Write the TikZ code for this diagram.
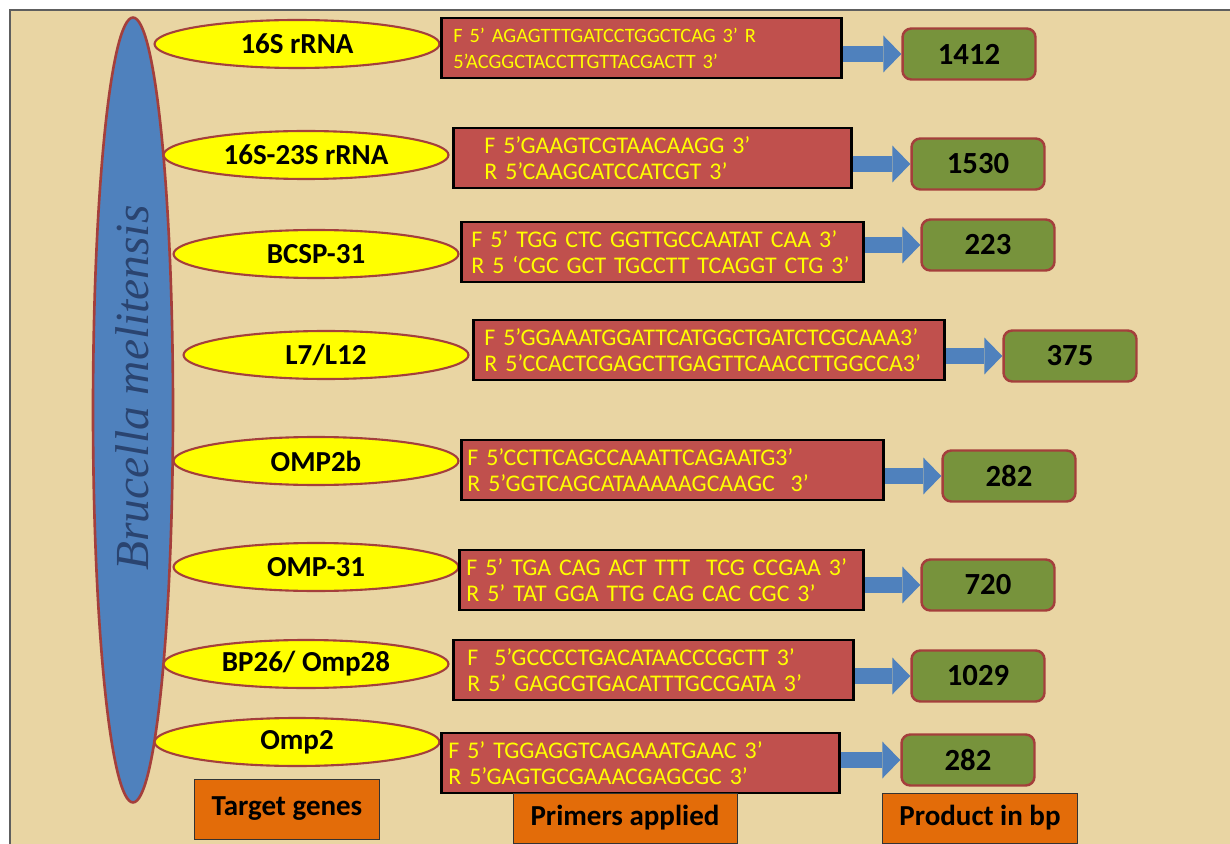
\documentclass[tikz,border=0pt]{standalone}
\usepackage{fontspec}
\usepackage{tikz}
\usetikzlibrary{arrows.meta,positioning,shapes.geometric}
\setmainfont{Carlito}
\newfontfamily\spfont{Liberation Serif}
\definecolor{brparch}{HTML}{E9D5A3}
\definecolor{brframe}{HTML}{5E5E5E}
\definecolor{brblue}{HTML}{4F81BD}
\definecolor{brnavy}{HTML}{2A4470}
\definecolor{brred}{HTML}{C0504D}
\definecolor{brrim}{HTML}{A43F3C}
\definecolor{bryellow}{HTML}{FFFF00}
\definecolor{brgreen}{HTML}{77933C}
\definecolor{brorange}{HTML}{E36C09}
\tikzset{
  gene/.style={ellipse, draw=brrim, fill=bryellow, line width=1.2pt, minimum width=5.7cm, minimum height=0.96cm, inner sep=0pt, font=\fontsize{16.5}{18}\selectfont\bfseries},
  primer/.style={draw=black, fill=brred, line width=1.6pt, anchor=west, align=left, minimum height=1.2cm, inner ysep=0pt, text=bryellow, font=\fontsize{13.6}{14.7}\selectfont},
  product/.style={draw=brrim, fill=brgreen, line width=1.4pt, rounded corners=5pt, minimum width=2.66cm, minimum height=1.02cm, font=\fontsize{17.5}{19}\selectfont\bfseries},
  tag/.style={draw=black!80, fill=brorange, line width=0.5pt, minimum height=1cm, font=\fontsize{16.5}{18}\selectfont\bfseries},
  flow/.style={-{Triangle[length=3.6mm 0 0, width=7.4mm 0 0, line width=0pt]}, line width=3.2mm, draw=brblue}
}
\begin{document}
\begin{tikzpicture}[x=0.02cm, y=-0.02cm]
  \useasboundingbox (0,0) rectangle (1230,844);
  \fill[white] (0,0) rectangle (1230,844);
  \fill[brparch] (10,10) rectangle (1230,844);
  \draw[brframe, line width=1pt] (10,844) -- (10,10) -- (1230,10);

  % species
  \node[ellipse, draw=brrim, fill=brblue, line width=1.5pt, minimum width=1.6cm, minimum height=15.7cm, inner sep=0pt] (spc) at (133,410) {};
  \node[rotate=90, text=brnavy, font=\spfont\itshape\fontsize{27}{30}\selectfont] (spcname) at (132,388) {Brucella melitensis};

  % target genes
  \node[gene] (g1) at (297,44) {16S rRNA};
  \node[gene] (g2) at (306,155) {16S-23S rRNA};
  \node[gene] (g3) at (316,254) {BCSP-31};
  \node[gene] (g4) at (326,355) {L7/L12};
  \node[gene] (g5) at (316,461) {OMP2b};
  \node[gene] (g6) at (316,567) {OMP-31};
  \node[gene] (g7) at (306,664) {BP26/ Omp28};
  \node[gene] (g8) at (297,742) {Omp2};

  % primers
  \node[primer, inner xsep=0.24cm, text width=7.52cm, font=\fontsize{11.6}{14.7}\selectfont] (p1) at (440,48) {F 5’ AGAGTTTGATCCTGGCTCAG 3’ R\\5’ACGGCTACCTTGTTACGACTT 3’};
  \node[primer, inner xsep=0.62cm, text width=6.72cm] (p2) at (452,158) {F 5’GAAGTCGTAACAAGG 3’\\R 5’CAAGCATCCATCGT 3’};
  \node[primer, inner xsep=0.2cm, text width=7.64cm] (p3) at (460,252) {F 5’ TGG CTC GGTTGCCAATAT CAA 3’\\R 5 ‘CGC GCT TGCCTT TCAGGT CTG 3’};
  \node[primer, inner xsep=0.22cm, text width=8.98cm] (p4) at (472,350) {F 5’GGAAATGGATTCATGGCTGATCTCGCAAA3’\\R 5’CCACTCGAGCTTGAGTTCAACCTTGGCCA3’};
  \node[primer, inner xsep=0.12cm, text width=8.2cm] (p5) at (460,470) {F 5’CCTTCAGCCAAATTCAGAATG3’\\R 5’GGTCAGCATAAAAAGCAAGC\ \ 3’};
  \node[primer, inner xsep=0.14cm, text width=7.8cm] (p6) at (458,580) {F 5’ TGA CAG ACT TTT\ \ TCG CCGAA 3’\\R 5’ TAT GGA TTG CAG CAC CGC 3’};
  \node[primer, inner xsep=0.28cm, text width=7.44cm] (p7) at (452,670) {F\ \ 5’GCCCCTGACATAACCCGCTT 3’\\R 5’ GAGCGTGACATTTGCCGATA 3’};
  \node[primer, inner xsep=0.14cm, text width=7.68cm] (p8) at (440,763) {F 5’ TGGAGGTCAGAAATGAAC 3’\\R 5’GAGTGCGAAACGAGCGC 3’};

  % products
  \node[product] (n1) at (969,54) {1412};
  \node[product] (n2) at (978,164) {1530};
  \node[product] (n3) at (988,245) {223};
  \node[product] (n4) at (1070,356) {375};
  \node[product] (n5) at (1009,476) {282};
  \node[product] (n6) at (988,585) {720};
  \node[product] (n7) at (978,676) {1029};
  \node[product] (n8) at (968,760) {282};

  \draw[flow] (p1.east |- n1) -- (n1.west);
  \draw[flow] (p2.east |- n2) -- (n2.west);
  \draw[flow] (p3.east |- n3) -- (n3.west);
  \draw[flow] (p4.east |- n4) -- (n4.west);
  \draw[flow] (p5.east |- n5) -- (n5.west);
  \draw[flow] (p6.east |- n6) -- (n6.west);
  \draw[flow] (p7.east |- n7) -- (n7.west);
  \draw[flow] (p8.east |- n8) -- (n8.west);

  % column tags
  \node[tag, minimum width=3.7cm, minimum height=1.2cm] (tgenes) at (287,809) {Target genes};
  \node[tag, minimum width=4.48cm] (tprimers) at (625,818) {Primers applied};
  \node[tag, minimum width=3.9cm] (tproduct) at (980,818) {Product in bp};
\end{tikzpicture}
\end{document}
